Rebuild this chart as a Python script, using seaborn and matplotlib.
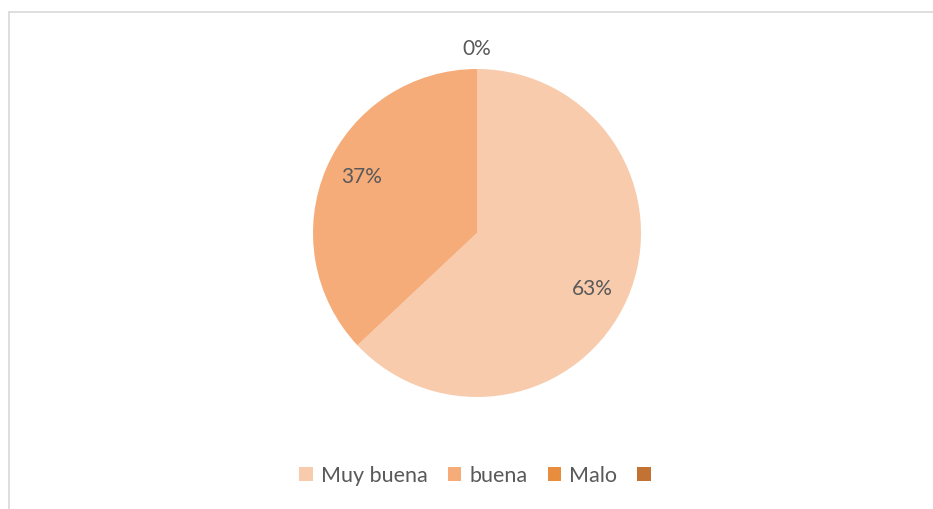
import matplotlib
matplotlib.use("Agg")
import matplotlib.pyplot as plt
from matplotlib.patches import Patch
from matplotlib.lines import Line2D
import numpy as np
import seaborn as sns

# Survey ratings and their share of responses (%)
categories = ["Muy buena", "buena", "Malo", ""]
shares = [63, 37, 0, 0]
pct_labels = ["63%", "37%", "0%", ""]
colors = ["#F8CBAD", "#F6AC79", "#E88C3E", "#C27333"]

sns.set_theme(style="white")
plt.rcParams["font.family"] = ["Lato", "DejaVu Sans"]
text_color = "#595959"

W, H = 933, 509
fig = plt.figure(figsize=(W / 100, H / 100), dpi=100)
fig.patch.set_facecolor("white")

# Pie axes: centre (477, 233) px, radius 164 px
cx, cy, r = 477, 233, 164
ax = fig.add_axes([(cx - r) / W, (H - cy - r) / H, 2 * r / W, 2 * r / H])
wedges, _ = ax.pie(shares, colors=colors, startangle=90, counterclock=False,
                   radius=1.0, wedgeprops=dict(linewidth=0))
ax.set_xlim(-1, 1)
ax.set_ylim(-1, 1)
ax.set_aspect("equal")
ax.axis("off")

# Percentage labels placed along each wedge's mid-angle
for w, lab in zip(wedges, pct_labels):
    if not lab:
        continue
    span = w.theta2 - w.theta1
    mid = (w.theta1 + w.theta2) / 2
    if span > 1:
        dist, mid = 0.78, mid - 2.5
    else:
        dist = 1.12
    mid = np.deg2rad(mid)
    ax.text(dist * np.cos(mid), dist * np.sin(mid), lab, ha="center", va="center",
            fontsize=15, color=text_color, clip_on=False)

# Legend along the bottom
handles = [Patch(facecolor=c, edgecolor="none") for c in colors]
fig.legend(handles, categories, loc="center", bbox_to_anchor=(479 / W, 1 - 476 / H),
           ncol=4, frameon=False, fontsize=15.5, handlelength=0.62, handleheight=0.62,
           handletextpad=0.37, columnspacing=0.95, labelcolor=text_color)

# Chart-area border (top and left edges)
border = "#D9D9D9"
fig.add_artist(Line2D([8.5 / W, 1.0], [1 - 11.5 / H, 1 - 11.5 / H], color=border, lw=1.2))
fig.add_artist(Line2D([8.5 / W, 8.5 / W], [0.0, 1 - 11.5 / H], color=border, lw=1.2))

fig.savefig("out.png", dpi=100)
